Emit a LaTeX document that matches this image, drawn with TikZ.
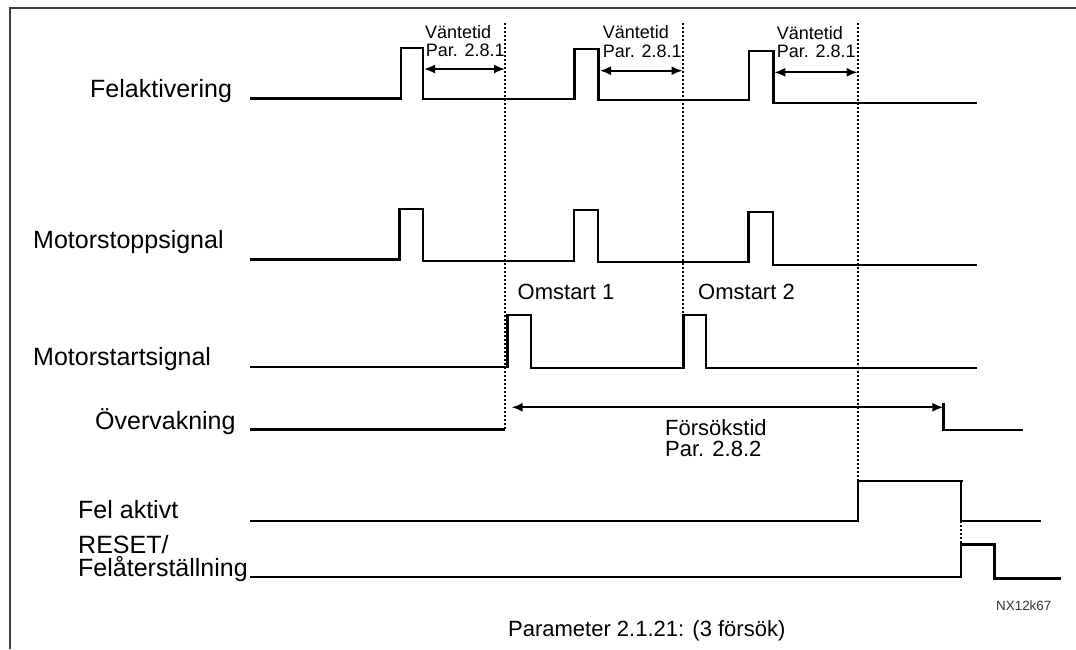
\documentclass[tikz,border=0pt]{standalone}
\usepackage{fontspec}
\setmainfont{Liberation Sans}
\usetikzlibrary{arrows.meta,positioning}

\tikzset{
  sig/.style={line width=2.4pt, line join=miter},
  guide/.style={line width=1.8pt, dash pattern=on 2.5pt off 1.5pt},
  lbl/.style={anchor=base west, inner sep=0pt, font=\fontsize{25}{28}\selectfont},
  note/.style={anchor=base west, inner sep=0pt, font=\fontsize{18}{20}\selectfont},
  mid/.style={anchor=base west, inner sep=0pt, font=\fontsize{22}{24}\selectfont},
  span/.style={line width=1.8pt, {Latex[length=11pt,width=9pt]}-{Latex[length=11pt,width=9pt]}},
}

\begin{document}
\begin{tikzpicture}[x=1pt,y=-1pt]
\useasboundingbox (0,0) rectangle (1076,649);
% Frame
\draw[line width=2pt,black!75] (9.5,649) -- (9.5,8) -- (1076,8);
% Signal names
\node[lbl] (felakt) at (90,97) {Felaktivering};
\node[lbl] (mstopp) at (33,248) {Motorstoppsignal};
\node[lbl] (mstart) at (33,365) {Motorstartsignal};
\node[lbl] (overv) at (95,429) {Övervakning};
\node[lbl] (felaktivt) at (78,518.3) {Fel aktivt};
\node[lbl] (reset) at (78,553.3) {RESET/};
\node[lbl] (felater) at (78,576.7) {Felåterställning};
% Felaktivering
\draw[sig] (250,98.3) -- (400.7,98.3) -- (400.7,47.7) -- (422.7,47.7) -- (422.7,98.7)
  -- (574.3,98.7) -- (574.3,49) -- (598.3,49) -- (598.3,100) -- (749,100) -- (749,50.7)
  -- (773.3,50.7) -- (773.3,102.7) -- (976.7,102.7);
% Motorstoppsignal
\draw[sig] (250,259.5) -- (399.6,259.5) -- (399.6,209) -- (422.9,209) -- (422.9,260.7)
  -- (573.9,260.7) -- (573.9,210) -- (597.9,210) -- (597.9,261.7) -- (748.6,261.7) -- (748.6,212)
  -- (772.9,212) -- (772.9,265) -- (976.7,265);
% Motorstartsignal
\draw[sig] (250,366.7) -- (507.5,366.7) -- (507.5,315) -- (531,315) -- (531,367.7)
  -- (683.6,367.7) -- (683.6,315) -- (706,315) -- (706,368) -- (976.7,368);
% Overvakning
\draw[sig] (250,429.3) -- (505,429.3);
\draw[sig] (943.3,402.7) -- (943.3,430) -- (1022.7,430);
% Fel aktivt
\draw[sig] (250,520.7) -- (857.7,520.7) -- (857.7,480.7) -- (962.5,480.7);
\draw[sig] (961,480.7) -- (961,520.7) -- (1040.7,520.7);
% RESET
\draw[sig] (250,576.7) -- (961,576.7) -- (961,544.3) -- (994.3,544.3) -- (994.3,580);
\draw[sig] (994.3,578.3) -- (1060.7,578.3);
% Guide lines
\coordinate (g1top) at (505,22.7);
\coordinate (g1bot) at (505,429.3);
\coordinate (g2top) at (683.3,22.7);
\coordinate (g2bot) at (683.3,367.7);
\coordinate (g3top) at (858,22.7);
\coordinate (g3bot) at (858,480.7);
\coordinate (rtop) at (961,520.7);
\coordinate (rbot) at (961,544.3);
\draw[guide] (g1top) -- (g1bot);
\draw[guide] (g2top) -- (g2bot);
\draw[guide] (g3top) -- (g3bot);
\draw[guide] (rtop) -- (rbot);
% Vantetid
\node[note] (vt1) at (425,38.3) {Väntetid};
\node[note] (par1) at (425.7,56.7) {Par. 2.8.1};
\node[note] (vt2) at (602.7,38.7) {Väntetid};
\node[note] (par2) at (602.7,57.2) {Par. 2.8.1};
\node[note] (vt3) at (776.7,39) {Väntetid};
\node[note] (par3) at (776.7,57.6) {Par. 2.8.1};
\coordinate (w1a) at (424,69);
\coordinate (w1b) at (505,69);
\coordinate (w2a) at (600,70.7);
\coordinate (w2b) at (682.5,70.7);
\coordinate (w3a) at (774.3,72.3);
\coordinate (w3b) at (857.5,72.3);
\draw[span] (w1a) -- (w1b);
\draw[span] (w2a) -- (w2b);
\draw[span] (w3a) -- (w3b);
% Omstart
\node[mid] (om1) at (517.5,299.6) {Omstart 1};
\node[mid] (om2) at (698,299.6) {Omstart 2};
% Forsokstid
\coordinate (fa) at (511.7,407.3);
\coordinate (fb) at (943.3,407.3);
\draw[span] (fa) -- (fb);
\node[mid] (fst) at (665,435) {Försökstid};
\node[mid] (fpar) at (665,456) {Par. 2.8.2};
% Footer
\node[anchor=base west,inner sep=0pt,font=\fontsize{13.4}{14}\selectfont,black!80] (code) at (996,610) {NX12k67};
\node[mid] (param) at (508,636.7) {Parameter 2.1.21: (3 försök)};
\end{tikzpicture}
\end{document}
